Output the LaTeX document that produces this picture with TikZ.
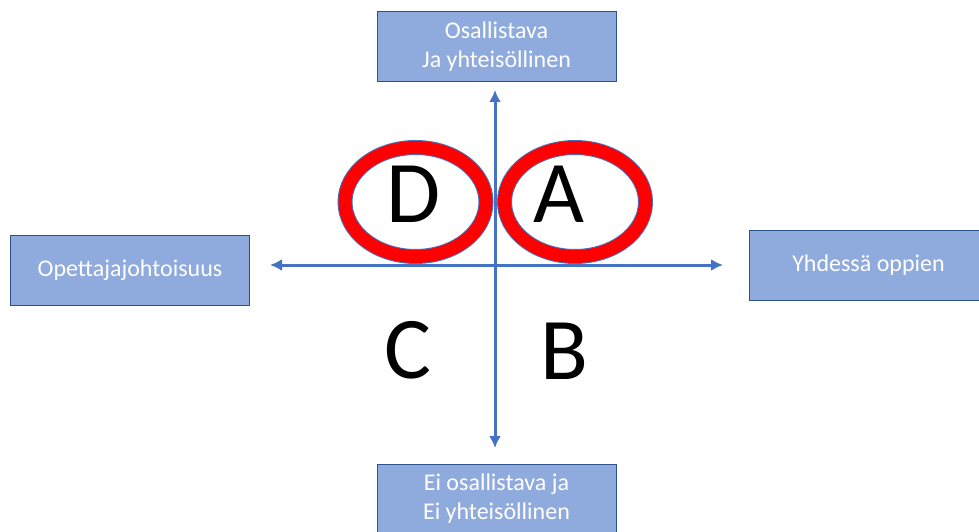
\documentclass[tikz,border=0pt]{standalone}
\usepackage{fontspec}
\setmainfont{Carlito}
\usepackage{xcolor}
\definecolor{boxBlue}{HTML}{8FAADC}
\definecolor{boxEdge}{HTML}{2F528F}
\definecolor{axisBlue}{HTML}{4472C4}
\definecolor{ringRed}{HTML}{FF0000}
\usepackage{tikz}
\usetikzlibrary{arrows.meta}
\usetikzlibrary{shapes.geometric}
\tikzset{arrow/.style = {axisBlue, line width = 3pt, {Latex[length = 12pt, width = 12pt]}-{Latex[length = 12pt, width = 12pt]}}}
\tikzset{endbox/.style = {draw = boxEdge, line width = 1pt, fill = boxBlue, text = white,
	minimum width = 239pt, minimum height = 70pt, inner sep = 0pt, align = center,
	font = \fontsize{24}{29}\selectfont}}
\tikzset{ring/.style = {ellipse, draw = axisBlue, line width = 1pt, double = ringRed,
	double distance = 13pt, fill = white, minimum width = 141pt, minimum height = 109pt, inner sep = 0pt}}
\tikzset{letter/.style = {anchor = base, inner sep = 0pt, font = \fontsize{88}{96}\selectfont}}

\begin{document}
\begin{tikzpicture}[x = 1pt, y = -1pt]
	\useasboundingbox (0, 0) rectangle (979, 532);

	%% Boxes
	\node[endbox] (top) at (496.5, 47) {Osallistava\\Ja yhteisöllinen};
	\node[endbox] (bottom) at (496.5, 499) {Ei osallistava ja\\Ei yhteisöllinen};
	\node[endbox] (left) at (130, 270) {Opettajajohtoisuus};
	\node[endbox] (right) at (868.5, 265.5) {Yhdessä oppien};

	%% Axis ends
	\coordinate (up) at (495, 90);
	\coordinate (down) at (495, 448);
	\coordinate (west) at (270, 265);
	\coordinate (east) at (723, 265);

	%% Rings
	\node[ring] (ringD) at (415.5, 202) {};
	\node[ring] (ringA) at (575, 202) {};

	\draw[arrow] (down) -- (up);
	\draw[arrow] (west) -- (east);

	%% Quadrants
	\node[letter] (D) at (414, 222) {D};
	\node[letter] (A) at (559, 222) {A};
	\node[letter] (C) at (408, 378) {C};
	\node[letter] (B) at (564, 379) {B};

\end{tikzpicture}
\end{document}
